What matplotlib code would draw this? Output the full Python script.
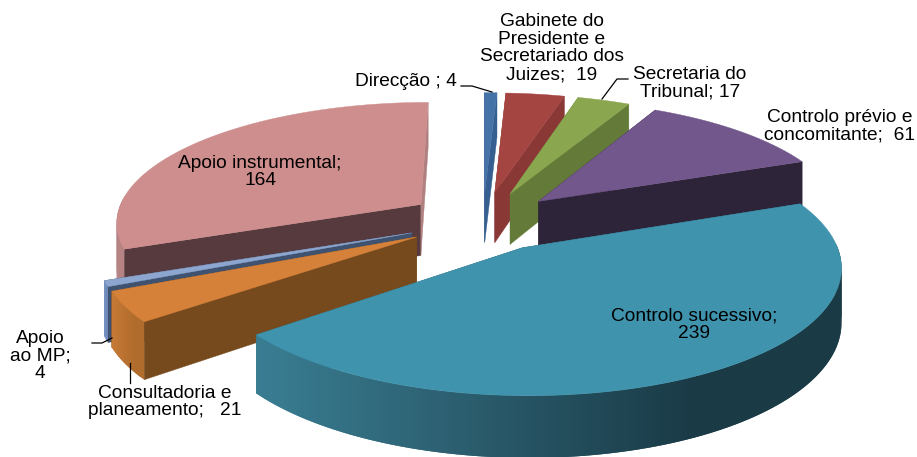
import numpy as np
import matplotlib
matplotlib.use("Agg")
import matplotlib.pyplot as plt
from matplotlib.patches import Polygon
from matplotlib.colors import to_rgb

plt.rcParams['font.family'] = ['Liberation Sans', 'DejaVu Sans']

categories = ["Direcção", "Gabinete do Presidente e Secretariado dos Juizes",
              "Secretaria do Tribunal", "Controlo prévio e concomitante",
              "Controlo sucessivo", "Consultadoria e planeamento",
              "Apoio ao MP", "Apoio instrumental"]
values = [4, 19, 17, 61, 239, 21, 4, 164]

top_colors = ["#4572A7", "#A54542", "#8AA64F", "#72578C", "#3F93AD", "#D5813A", "#8CA6D0", "#CE8E8D"]
start_face = ["#365F91", "#8A3836", "#647A38", "#2E2439", "#2A6070", "#774A1E", "#3F5370", "#573A3D"]
end_face = ["#365F91", "#8A3836", "#647A38", "#2E2439", "#2A6070", "#774A1E", "#3F5370", "#B08080"]
rim_left = ["#4572A7", "#A54542", "#8AA64F", "#72578C", "#3A7E93", "#C87A36", "#7F9ACB", "#B58383"]
rim_right = ["#365F91", "#8A3836", "#647A38", "#2E2439", "#1A3A46", "#B06C2C", "#6F8ABB", "#B08080"]
draw_order = [0, 1, 2, 3, 7, 6, 5, 4]

# fitted view of the pie: centre, radii, perspective, explosion, height
cx, cy = 483, 221
rx, ry = 306, 120
persp = 0.135
explode = 0.25
height = 52


def project(x, y, drop=0.0):
    s = 1 / (1 - persp * y)
    return cx + rx * x * s, cy + ry * y * s + drop * s


def blend(c1, c2, t):
    c1, c2 = np.array(to_rgb(c1)), np.array(to_rgb(c2))
    return tuple(c1 + (c2 - c1) * t)


fig = plt.figure(figsize=(9.17, 4.57), dpi=100, facecolor="white")
ax = fig.add_axes([0, 0, 1, 1])
ax.set_xlim(0, 917)
ax.set_ylim(457, 0)
ax.axis("off")

edges = np.cumsum([0] + values) / sum(values) * 2 * np.pi

for i in draw_order:
    t0, t1 = edges[i], edges[i + 1]
    mid = (t0 + t1) / 2
    ox, oy = explode * np.sin(mid), -explode * np.cos(mid)
    th = np.linspace(t0, t1, max(8, int((t1 - t0) * 60)))
    X = ox + np.sin(th)
    Y = oy - np.cos(th)

    ap = project(ox, oy)
    ap_low = project(ox, oy, height)
    px, py = project(X, Y)
    lx, ly = project(X, Y, height)

    # the two flat cuts
    ax.add_patch(Polygon([ap, (px[0], py[0]), (lx[0], ly[0]), ap_low],
                         fc=start_face[i], ec=start_face[i], lw=0.3))
    ax.add_patch(Polygon([ap, (px[-1], py[-1]), (lx[-1], ly[-1]), ap_low],
                         fc=end_face[i], ec=end_face[i], lw=0.3))

    # rim, shaded left to right; only the part facing the viewer.
    # each quad runs over the next one so no seams show
    xmin, xmax = px.min(), px.max()
    for j in range(len(th) - 1):
        if -np.cos(th[j]) < -0.05:
            continue
        k = min(j + 2, len(th) - 1)
        t = min(1, (px[j] - xmin) / max(1, 0.75 * (xmax - xmin)))
        col = blend(rim_left[i], rim_right[i], t)
        seg = list(zip(px[j:k + 1], py[j:k + 1])) + list(zip(lx[j:k + 1], ly[j:k + 1]))[::-1]
        ax.add_patch(Polygon(seg, fc=col, ec="none", lw=0))

    ax.add_patch(Polygon([ap] + list(zip(px, py)), fc=top_colors[i], ec=top_colors[i], lw=0.3))

# data labels
fs = 13.8
labels = [
    (f"Direcção ; {values[0]}", 406, 81),
    (f"Gabinete do\nPresidente e\nSecretariado dos\nJuizes;  {values[1]}", 552, 48),
    (f"Secretaria do\nTribunal; {values[2]}", 690, 83),
    (f"Controlo prévio e\nconcomitante;  {values[3]}", 840, 126),
    (f"Controlo sucessivo;\n{values[4]}", 694, 325),
    (f"Apoio instrumental;\n{values[7]}", 260, 172),
    (f"Consultadoria e\nplaneamento;   {values[5]}", 165, 402),
    (f"Apoio\nao MP;\n{values[6]}", 40, 356),
]
for text, x, y in labels:
    ax.text(x, y, text, ha="center", va="center", fontsize=fs, color="black", linespacing=1.07)

# leader lines
leaders = [
    ([461, 472, 492], [86, 86, 92]),
    ([602, 617, 628], [99, 79, 79]),
    ([92, 102, 112], [343, 343, 338]),
    ([130, 130], [363, 383]),
]
for lx_, ly_ in leaders:
    ax.plot(lx_, ly_, color="black", lw=0.9)

fig.savefig("out.png", dpi=100)
